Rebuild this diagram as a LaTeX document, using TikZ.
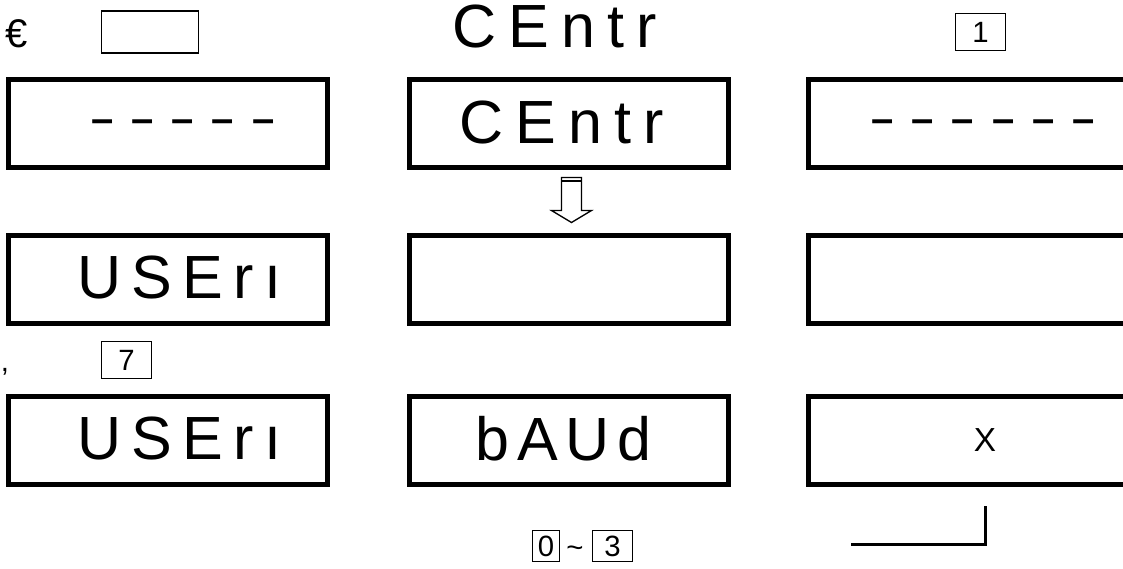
\documentclass[tikz,border=0pt]{standalone}
\usepackage{fontspec}
\setmainfont{Liberation Sans}
\usepackage{tikz}
\usetikzlibrary{positioning, calc}

\begin{document}
\begin{tikzpicture}[
    x=0.75pt, y=-0.75pt,
    display/.style={draw, line width=3.75pt, minimum width=239.25pt, minimum height=66pt, inner sep=0pt},
    keybox/.style={draw, line width=1.25pt, inner sep=0pt, font=\fontsize{22pt}{22pt}\selectfont},
    segtext/.style={anchor=base west, inner sep=0pt, font=\fontsize{45.75pt}{46pt}\selectfont\addfontfeature{Ligatures=TeXOff, LetterSpace=#1}},
    dashtext/.style={anchor=base west, inner sep=0pt, font=\bfseries\fontsize{30pt}{30pt}\selectfont\addfontfeature{LetterSpace=45}},
    plain/.style={inner sep=0pt, font=\fontsize{22pt}{22pt}\selectfont},
    hollow/.style={draw, line width=1pt, fill=white, line join=miter},
    bracket/.style={draw, line width=2.25pt}
]
    \useasboundingbox (0, 0) rectangle (1123, 568);
    \clip (0, 0) rectangle (1123, 568);

    % --- KEYS ABOVE ---
    \node[plain, font=\fontsize{30pt}{30pt}\selectfont] (euro) at (17, 34) {€};
    \node[keybox, minimum width=72.75pt, minimum height=31.5pt] (keyblank) at (150, 32) {};
    \node[segtext=20] (topcentr) at (452, 47) {CEntr};
    \node[keybox, minimum width=37.5pt, minimum height=27.75pt] (keyone) at (980.5, 32) {1};

    % --- ROW 1 ---
    \node[display] (dashfive) at (168, 123) {};
    \node[dashtext] (dashfivetxt) at (91, 132) {–––––};
    \node[display] (centr) at (568.5, 123) {};
    \node[segtext=20] (centrtxt) at (459, 143) {CEntr};
    \node[display] (dashsix) at (968, 123) {};
    \node[dashtext] (dashsixtxt) at (871, 132) {––––––};

    % hollow arrow below CEntr
    \coordinate (arrtop) at ($(centr.south)+(3, 8)$);
    \draw[hollow] (arrtop) ++(-10, 0) -- ++(0, 33) -- ++(-10, 0) -- ++(20, 12) -- ++(20, -12) -- ++(-10, 0) -- ++(0, -33) -- cycle;
    \draw[line width=1pt] ($(arrtop)+(-10, 3.5)$) -- ($(arrtop)+(10, 3.5)$);

    % --- ROW 2 ---
    \node[display] (userone) at (168, 279) {};
    \node[segtext=17] (useronetxt) at (77, 298) {USErı};
    \node[display] (blankmid) at (568.5, 279) {};
    \node[display] (blankright) at (968, 279) {};

    \node[plain] (comma) at (5, 372) {,};
    \node[keybox, minimum width=37.5pt, minimum height=27.75pt] (keyseven) at (126.5, 360) {7};

    % --- ROW 3 ---
    \node[display] (usertwo) at (168, 440) {};
    \node[segtext=17] (usertwotxt) at (77, 459) {USErı};
    \node[display] (baud) at (568.5, 440) {};
    \node[segtext=13] (baudtxt) at (475, 460) {bAUd};
    \node[display] (xbox) at (968, 440) {};
    \node[font=\fontsize{25pt}{25pt}\selectfont, inner sep=0pt] (xlabel) at (985, 440) {X};

    % --- KEYS BELOW ---
    \node[keybox, minimum width=20.25pt, minimum height=23.25pt] (keyzero) at (546, 546) {0};
    \node[plain, anchor=base] (tilde) at (575, 557) {\char"007E};
    \node[keybox, minimum width=30pt, minimum height=23.25pt] (keythree) at (612.5, 546) {3};

    \coordinate (lcorner) at (985, 544);
    \coordinate (lstart) at (851, 544);
    \coordinate (lend) at (985, 506);
    \draw[bracket] (lstart) -- (lcorner) -- (lend);

\end{tikzpicture}
\end{document}
